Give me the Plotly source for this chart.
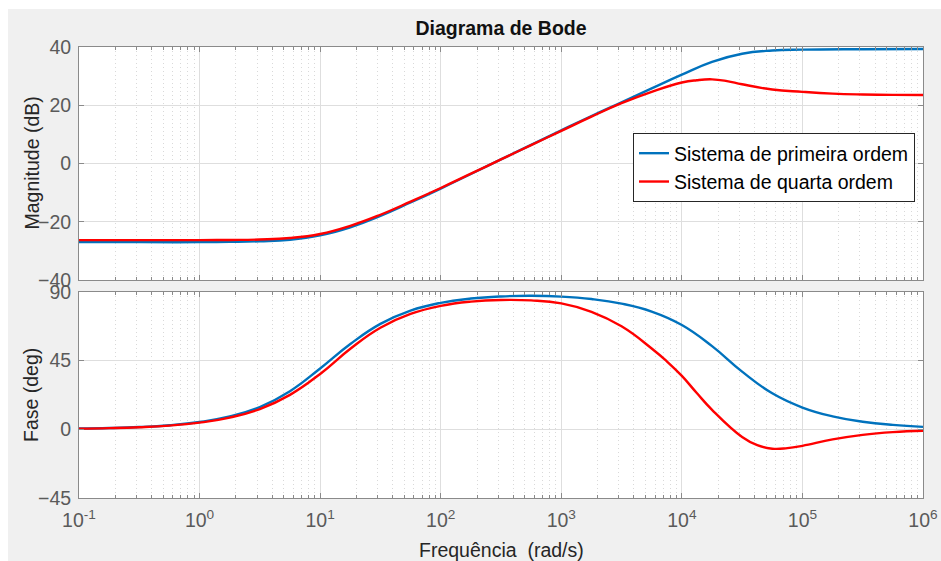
import plotly.graph_objects as go

# ---------------- data ----------------
freq_mag_first = [0.1, 0.316, 1, 1.78, 3.16, 5.62, 10, 17.8, 31.6, 56.2, 100,
                  178, 316, 562, 1000, 1780, 3160, 5620, 10000, 17800, 31600,
                  56200, 100000, 316000, 1000000]
mag_first = [-27.0, -27.0, -27.0, -26.9, -26.7, -26.2, -24.7, -21.9, -18.0,
             -13.4, -8.6, -3.6, 1.4, 6.4, 11.4, 16.3, 21.0, 25.8, 30.5, 34.9,
             37.7, 38.8, 39.1, 39.25, 39.3]

freq_mag_fourth = [0.1, 0.316, 1, 1.78, 3.16, 5.62, 10, 17.8, 31.6, 56.2, 100,
                   178, 316, 562, 1000, 1780, 3160, 5620, 10000, 13300, 17800,
                   23700, 31600, 56200, 100000, 178000, 316000, 562000, 1000000]
mag_fourth = [-26.3, -26.3, -26.3, -26.25, -26.1, -25.6, -24.2, -21.4, -17.6,
              -13.1, -8.4, -3.5, 1.4, 6.3, 11.2, 16.1, 20.7, 24.6, 27.8, 28.6,
              28.9, 28.3, 27.2, 25.4, 24.6, 24.0, 23.7, 23.55, 23.5]

freq_phase_first = [0.1, 0.178, 0.316, 0.562, 1, 1.78, 3.16, 5.62, 10, 17.8,
                    31.6, 56.2, 100, 178, 316, 562, 1000, 1780, 3160, 5620,
                    10000, 17800, 31600, 56200, 100000, 178000, 316000, 562000,
                    1000000]
phase_first = [0.5, 0.85, 1.5, 2.7, 4.8, 8.4, 14.6, 25.0, 39.9, 55.9, 69.1,
               77.8, 82.9, 85.7, 87.1, 87.5, 87.0, 85.4, 82.4, 77.2, 68.4, 54.5,
               37.8, 23.6, 14.3, 8.5, 5.0, 2.9, 1.6]

freq_phase_fourth = [0.1, 0.178, 0.316, 0.562, 1, 1.78, 3.16, 5.62, 10, 17.8,
                     31.6, 56.2, 100, 178, 316, 562, 1000, 1780, 3160, 5620,
                     7500, 10000, 13300, 17800, 31600, 42200, 56200, 75000,
                     100000, 178000, 316000, 562000, 1000000]
phase_fourth = [0.45, 0.8, 1.4, 2.45, 4.4, 7.7, 13.3, 22.6, 36.3, 52.8, 66.6,
                75.6, 80.9, 83.7, 84.8, 84.5, 82.5, 77.0, 67.5, 53.0, 44.6, 35.0,
                23.8, 12.8, -5.0, -10.4, -12.7, -12.3, -10.8, -6.6, -3.6, -1.8,
                -0.9]

series_names = ["Sistema de primeira ordem", "Sistema de quarta ordem"]
x_tickvals = [0.1, 1, 10, 100, 1000, 10000, 100000, 1000000]
x_ticktext = ["10<sup>-1</sup>", "10<sup>0</sup>", "10<sup>1</sup>",
              "10<sup>2</sup>", "10<sup>3</sup>", "10<sup>4</sup>",
              "10<sup>5</sup>", "10<sup>6</sup>"]
mag_ticks = [-40, -20, 0, 20, 40]
phase_ticks = [-45, 0, 45, 90]

title_text = "Diagrama de Bode"
xlabel = "Frequência  (rad/s)"
ylabel_mag = "Magnitude (dB)"
ylabel_phase = "Fase (deg)"

# ---------------- styling ----------------
BLUE = "#0072BD"
RED = "#FF0000"
FONT = "Liberation Sans, Arial, sans-serif"
TICKCOL = "#5a5a5a"
AXCOL = "#8a8a8a"
GRID = "#dedede"
MINGRID = "#d9d9d9"
FS = 19.5
LW = 2.4

def line(color):
    return dict(color=color, width=LW, shape="spline", smoothing=1.3)

fig = go.Figure()
fig.add_trace(go.Scatter(x=freq_mag_first, y=mag_first, mode="lines",
                         name=series_names[0], line=line(BLUE), xaxis="x", yaxis="y"))
fig.add_trace(go.Scatter(x=freq_mag_fourth, y=mag_fourth, mode="lines",
                         name=series_names[1], line=line(RED), xaxis="x", yaxis="y"))
fig.add_trace(go.Scatter(x=freq_phase_first, y=phase_first, mode="lines",
                         showlegend=False, line=line(BLUE), xaxis="x2", yaxis="y2"))
fig.add_trace(go.Scatter(x=freq_phase_fourth, y=phase_fourth, mode="lines",
                         showlegend=False, line=line(RED), xaxis="x2", yaxis="y2"))

W, H = 941, 561
ml, mr, mt, mb = 79, 18, 47, 63
ph = H - mt - mb
pw = W - ml - mr
top_lo = (H - mb - 280) / ph
bot_hi = (H - mb - 292) / ph

xcommon = dict(type="log", range=[-1, 6], tickvals=x_tickvals, ticktext=x_ticktext,
               showline=True, linecolor=AXCOL, linewidth=1, mirror="allticks",
               ticks="inside", ticklen=5, tickcolor=AXCOL,
               showgrid=True, gridcolor=GRID, gridwidth=1, zeroline=False,
               minor=dict(ticks="inside", ticklen=3, tickcolor=AXCOL, dtick="D1",
                          showgrid=True, gridcolor=MINGRID, griddash="1px,3px", gridwidth=1),
               tickfont=dict(family=FONT, size=FS, color=TICKCOL))
ycommon = dict(showline=True, linecolor=AXCOL, linewidth=1, mirror="ticks",
               ticks="inside", ticklen=5, tickcolor=AXCOL, ticklabelstandoff=3,
               showgrid=True, gridcolor=GRID, gridwidth=1, zeroline=False,
               tickfont=dict(family=FONT, size=FS, color=TICKCOL))

fig.update_layout(
    width=W, height=H,
    margin=dict(l=ml, r=mr, t=mt, b=mb, autoexpand=False),
    paper_bgcolor="#f0f0f0", plot_bgcolor="white",
    font=dict(family=FONT, size=FS, color="#262626"),
    title=dict(text="<b>" + title_text + "</b>", x=(ml + 422) / W, xanchor="center",
               y=1 - 28 / H, yanchor="middle",
               font=dict(family=FONT, size=FS, color="#111111")),
    xaxis=dict(xcommon, domain=[0, 1], anchor="y", showticklabels=False),
    yaxis=dict(ycommon, domain=[top_lo, 1], anchor="x", range=[-40, 40], tickvals=mag_ticks),
    xaxis2=dict(xcommon, domain=[0, 1], anchor="y2", ticklabelstandoff=5),
    yaxis2=dict(ycommon, domain=[0, bot_hi], anchor="x2", range=[-45, 90], tickvals=phase_ticks),
    legend=dict(x=(915 - ml) / pw, xanchor="right",
                y=(H - mb - 133) / ph, yanchor="top",
                bgcolor="white", bordercolor="#262626", borderwidth=1,
                font=dict(family=FONT, size=FS, color="black"),
                itemwidth=30, tracegroupgap=0),
    showlegend=True,
)

def px_x(px):
    return (px - ml) / pw

def px_y(py):
    return (H - mb - py) / ph

# axis titles as annotations (exact placement)
fig.add_annotation(text=ylabel_mag, textangle=-90, x=px_x(31), y=px_y(163.5),
                   xref="paper", yref="paper", xanchor="center", yanchor="middle",
                   showarrow=False, font=dict(family=FONT, size=FS, color="#262626"))
fig.add_annotation(text=ylabel_phase, textangle=-90, x=px_x(31), y=px_y(395),
                   xref="paper", yref="paper", xanchor="center", yanchor="middle",
                   showarrow=False, font=dict(family=FONT, size=FS, color="#262626"))
fig.add_annotation(text=xlabel, x=px_x(501), y=px_y(550),
                   xref="paper", yref="paper", xanchor="center", yanchor="middle",
                   showarrow=False, font=dict(family=FONT, size=FS, color="#262626"))

# thin white strips at the top and left edge of the window (as in reference)
fig.add_shape(type="rect", xref="paper", yref="paper",
              x0=px_x(0), x1=px_x(W), y0=px_y(9), y1=px_y(0),
              fillcolor="white", line=dict(width=0), layer="below")
fig.add_shape(type="rect", xref="paper", yref="paper",
              x0=px_x(0), x1=px_x(8), y0=px_y(H), y1=px_y(0),
              fillcolor="white", line=dict(width=0), layer="below")

fig.write_html("out.html")
